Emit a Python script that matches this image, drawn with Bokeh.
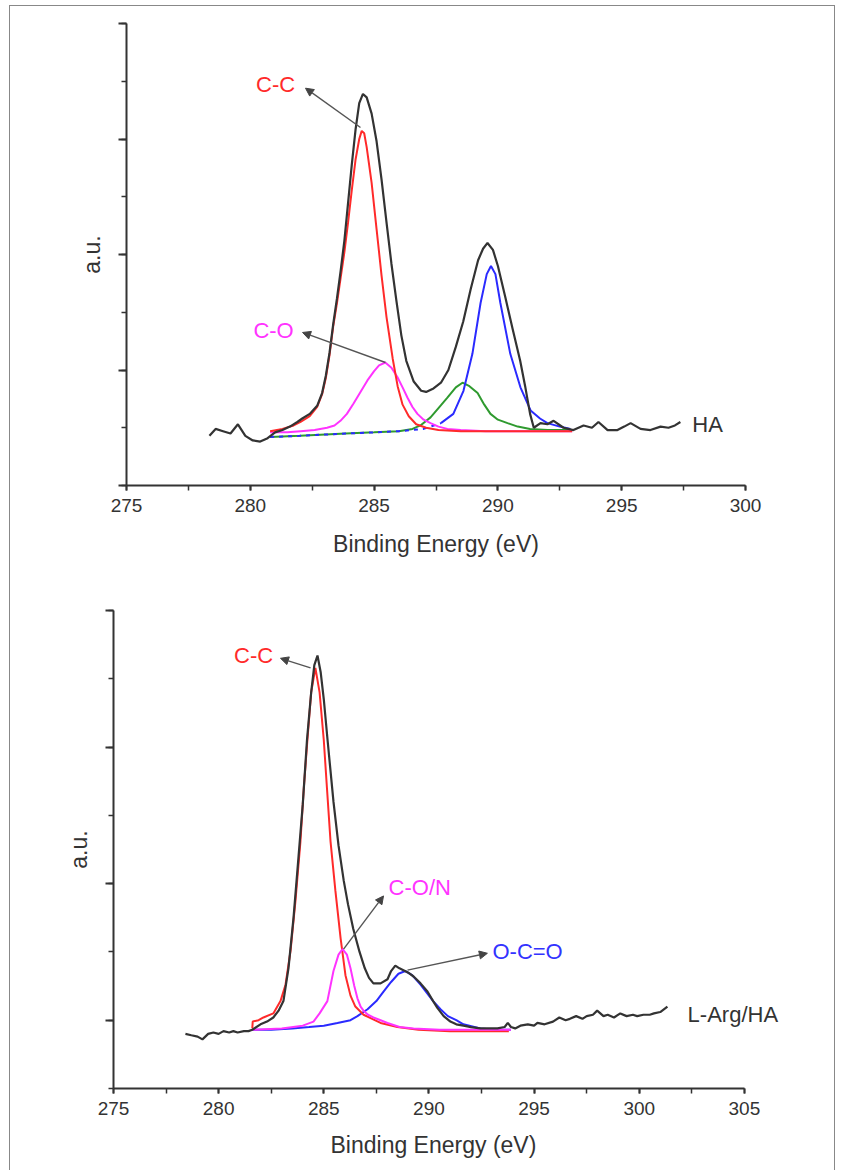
from bokeh.plotting import figure
from bokeh.models import (Range1d, SingleIntervalTicker, Arrow, NormalHead, ColumnDataSource,
                          LabelSet, CustomJSTickFormatter, Title)
from bokeh.layouts import column, row
from bokeh.core.properties import value
from bokeh.embed import file_html
from bokeh.resources import INLINE

FONT = "Liberation Sans"

# ---------------- Top panel: HA ----------------
ha_total_x = [278.35, 278.6, 278.9, 279.2, 279.5, 279.8, 280.1, 280.4, 280.7, 281.0, 281.3, 281.6,
              281.9, 282.1, 282.4, 282.7, 282.9, 283.05, 283.2, 283.35, 283.5, 283.65, 283.8, 283.95,
              284.1, 284.25, 284.4, 284.55, 284.7, 284.9, 285.1, 285.3, 285.5, 285.7, 285.9, 286.1,
              286.3, 286.6, 286.9, 287.1, 287.4, 287.7, 288.0, 288.3, 288.6, 288.9, 289.2, 289.4,
              289.58, 289.8, 290.0, 290.3, 290.6, 290.9, 291.1, 291.3, 291.45, 291.72, 292.0, 292.25,
              292.65, 293.05, 293.46, 293.8, 294.06, 294.43, 294.83, 295.1, 295.36, 295.76, 296.16,
              296.57, 296.89, 297.15, 297.37]
ha_total_y = [0.43, 0.49, 0.47, 0.45, 0.53, 0.43, 0.39, 0.38, 0.41, 0.46, 0.48, 0.51,
              0.55, 0.58, 0.62, 0.69, 0.80, 0.95, 1.15, 1.40, 1.62, 1.86, 2.12, 2.45,
              2.78, 3.08, 3.31, 3.39, 3.36, 3.22, 2.98, 2.65, 2.28, 1.92, 1.60, 1.30,
              1.08, 0.90, 0.82, 0.81, 0.84, 0.89, 1.00, 1.20, 1.42, 1.70, 1.95, 2.05,
              2.10, 2.04, 1.90, 1.63, 1.35, 1.08, 0.86, 0.62, 0.50, 0.54, 0.53, 0.56,
              0.50, 0.48, 0.52, 0.50, 0.55, 0.48, 0.48, 0.51, 0.54, 0.49, 0.48,
              0.51, 0.50, 0.52, 0.55]

ha_cc_x = [280.8, 281.3, 281.75, 282.03, 282.4, 282.7, 282.9, 283.05, 283.2, 283.35, 283.5, 283.65,
           283.8, 283.95, 284.1, 284.25, 284.4, 284.5, 284.6, 284.7, 284.9, 285.1, 285.3, 285.5,
           285.75, 285.95, 286.15, 286.4, 286.7, 287.1, 287.6, 288.5, 290.0, 291.5, 293.0]
ha_cc_y = [0.47, 0.49, 0.52, 0.55, 0.60, 0.68, 0.79, 0.93, 1.13, 1.38, 1.58, 1.80,
           2.02, 2.28, 2.56, 2.82, 3.00, 3.07, 3.05, 2.93, 2.62, 2.22, 1.82, 1.46,
           1.10, 0.86, 0.70, 0.60, 0.53, 0.50, 0.48, 0.47, 0.47, 0.47, 0.47]

ha_co_x = [280.8, 281.5, 282.03, 282.6, 283.1, 283.4, 283.64, 283.9, 284.17, 284.45, 284.73, 285.0,
           285.2, 285.45, 285.7, 285.94, 286.15, 286.35, 286.55, 286.75, 287.0, 287.28, 287.6, 287.96,
           288.5, 289.5, 291.0, 293.0]
ha_co_y = [0.46, 0.46, 0.47, 0.48, 0.50, 0.52, 0.56, 0.62, 0.71, 0.81, 0.91, 0.99,
           1.04, 1.065, 1.02, 0.94, 0.85, 0.76, 0.68, 0.62, 0.57, 0.54, 0.51, 0.49,
           0.48, 0.47, 0.47, 0.47]

ha_g_x = [280.8, 282.0, 283.85, 285.0, 286.0, 286.55, 286.87, 287.28, 287.6, 287.96, 288.3, 288.57,
          288.85, 289.18, 289.45, 289.7, 290.0, 290.39, 290.8, 291.3, 292.0, 292.9]
ha_g_y = [0.42, 0.43, 0.45, 0.46, 0.47, 0.49, 0.52, 0.59, 0.67, 0.76, 0.85, 0.89,
          0.86, 0.80, 0.70, 0.62, 0.57, 0.54, 0.51, 0.49, 0.48, 0.48]

ha_b_x = [280.8, 282.0, 283.85, 285.0, 286.0, 287.0, 287.7, 288.2, 288.61, 288.97, 289.3, 289.55,
          289.72, 289.9, 290.1, 290.5, 290.91, 291.32, 291.7, 292.0, 292.5, 292.93]
ha_b_y = [0.42, 0.43, 0.45, 0.46, 0.47, 0.49, 0.54, 0.62, 0.82, 1.14, 1.58, 1.83,
          1.90, 1.83, 1.58, 1.14, 0.85, 0.65, 0.58, 0.54, 0.51, 0.49]

# ---------------- Bottom panel: L-Arg/HA ----------------
la_total_x = [278.42, 278.7, 279.0, 279.23, 279.5, 279.75, 280.0, 280.23, 280.5, 280.7, 280.9, 281.2,
              281.42, 281.6, 281.99, 282.3, 282.6, 282.85, 283.08, 283.32, 283.56, 283.8, 284.0, 284.2,
              284.4, 284.55, 284.7, 284.85, 285.0, 285.18, 285.46, 285.7, 285.95, 286.15, 286.4, 286.7,
              286.95, 287.15, 287.36, 287.7, 288.03, 288.2, 288.4, 288.6, 288.74, 289.0, 289.27, 289.6,
              289.93, 290.2, 290.4, 290.7, 291.02, 291.3, 291.64, 292.0, 292.45, 292.9, 293.26, 293.6,
              293.75, 293.9, 294.1, 294.35, 294.7, 295.0, 295.16, 295.5, 295.9, 296.2, 296.5, 296.7,
              297.0, 297.3, 297.5, 297.8, 298.0, 298.3, 298.5, 298.8, 299.1, 299.4, 299.7, 299.9,
              300.2, 300.5, 300.7, 301.0, 301.34]
la_total_y = [-0.10, -0.11, -0.12, -0.14, -0.10, -0.09, -0.10, -0.08, -0.09, -0.08, -0.09, -0.08,
              -0.08, -0.07, -0.03, -0.01, 0.02, 0.07, 0.14, 0.38, 0.75, 1.20, 1.58, 2.05,
              2.40, 2.60, 2.67, 2.55, 2.35, 2.05, 1.60, 1.28, 1.02, 0.85, 0.67, 0.50,
              0.38, 0.31, 0.27, 0.27, 0.30, 0.36, 0.40, 0.38, 0.37, 0.35, 0.32, 0.27,
              0.21, 0.14, 0.09, 0.03, -0.01, -0.03, -0.04, -0.05, -0.06, -0.06, -0.06, -0.05,
              -0.02, -0.05, -0.06, -0.04, -0.03, -0.04, -0.02, -0.03, -0.01, 0.02, 0.00, 0.01,
              0.03, 0.01, 0.03, 0.04, 0.07, 0.03, 0.04, 0.02, 0.05, 0.03, 0.04, 0.03,
              0.04, 0.04, 0.05, 0.06, 0.10]

la_cc_x = [281.6, 281.62, 281.9, 282.13, 282.6, 282.94, 283.18, 283.42, 283.65, 283.89, 284.05, 284.22,
           284.4, 284.6, 284.8, 285.0, 285.15, 285.32, 285.55, 285.8, 286.03, 286.27, 286.5, 286.89,
           287.3, 287.7, 288.5, 289.5, 291.0, 293.8]
la_cc_y = [-0.06, -0.01, 0.00, 0.02, 0.05, 0.14, 0.26, 0.51, 0.87, 1.31, 1.70, 2.05,
           2.40, 2.58, 2.40, 2.05, 1.70, 1.31, 0.95, 0.60, 0.33, 0.18, 0.10, 0.04,
           0.01, -0.02, -0.05, -0.07, -0.08, -0.08]

la_con_x = [281.6, 283.0, 284.0, 284.51, 284.8, 285.17, 285.46, 285.7, 285.89, 286.1, 286.27, 286.45,
            286.6, 286.75, 286.89, 287.1, 287.36, 287.7, 288.03, 288.6, 289.27, 290.5, 293.9]
la_con_y = [-0.07, -0.06, -0.04, -0.01, 0.05, 0.14, 0.36, 0.48, 0.52, 0.48, 0.38, 0.25,
            0.16, 0.10, 0.07, 0.04, 0.02, 0.00, -0.02, -0.05, -0.06, -0.07, -0.07]

la_occ_x = [281.6, 282.5, 283.5, 284.3, 285.0, 285.65, 286.27, 286.6, 287.08, 287.5, 287.84, 288.2,
            288.55, 288.88, 289.2, 289.6, 289.9, 290.2, 290.55, 290.9, 291.3, 291.64, 292.45, 293.2,
            293.9]
la_occ_y = [-0.07, -0.07, -0.06, -0.05, -0.04, -0.02, 0.00, 0.03, 0.08, 0.14, 0.21, 0.28,
            0.34, 0.36, 0.33, 0.26, 0.20, 0.14, 0.08, 0.03, 0.00, -0.03, -0.06, -0.07,
            -0.07]

# ---------------- Labels & arrows ----------------
top_labels = ["C-C", "C-O", "HA"]
top_label_x = [281.02, 280.94, 297.85]
top_label_y = [3.47, 1.34, 0.53]
top_label_align = ["center", "center", "left"]
top_label_color = ["#ff2a2a", "#ff33ff", "#333333"]
top_arrow_start = [(284.45, 3.10), (285.46, 1.065)]
top_arrow_end = [(282.23, 3.44), (282.11, 1.325)]

bot_labels = ["C-C", "C-O/N", "O-C=O", "L-Arg/HA"]
bot_label_x = [281.66, 288.08, 293.02, 302.3]
bot_label_y = [2.67, 0.97, 0.506, 0.044]
bot_label_align = ["center", "left", "left", "left"]
bot_label_color = ["#ff2a2a", "#ff33ff", "#3333ff", "#333333"]
bot_arrow_start = [(284.37, 2.58), (285.94, 0.52), (288.98, 0.367)]
bot_arrow_end = [(282.94, 2.65), (287.84, 0.91), (292.78, 0.49)]

XLABEL = "Binding Energy (eV)"
YLABEL = "a.u."

BLACK = "#333333"
RED = "#ff2a2a"
MAGENTA = "#ff33ff"
GREEN = "#2f9a2f"
BLUE = "#2a2aff"


def style(p, xlabel, ylabel, xbounds):
    p.grid.visible = False
    p.outline_line_color = None
    p.background_fill_color = "white"
    p.border_fill_color = "white"
    p.xaxis.ticker = SingleIntervalTicker(interval=5, num_minor_ticks=2)
    p.yaxis.ticker = SingleIntervalTicker(interval=1, num_minor_ticks=2)
    p.xaxis.bounds = xbounds
    for ax in (p.xaxis[0], p.yaxis[0]):
        ax.axis_line_color = BLACK
        ax.axis_line_width = 2
        ax.major_tick_line_color = BLACK
        ax.minor_tick_line_color = BLACK
        ax.major_tick_line_width = 2
        ax.minor_tick_line_width = 1.5
        ax.major_tick_in = 0
        ax.minor_tick_in = 0
        ax.axis_label_text_font = FONT
        ax.axis_label_text_font_style = "normal"
        ax.axis_label_text_font_size = "23px"
        ax.axis_label_text_color = BLACK
        ax.major_label_text_font = FONT
        ax.major_label_text_font_size = "19px"
        ax.major_label_text_color = BLACK
    p.xaxis.major_tick_out = 5
    p.xaxis.minor_tick_out = 5
    p.xaxis.major_label_standoff = 8
    if xlabel:
        p.xaxis.axis_label = xlabel
        p.xaxis.axis_label_standoff = 16
    p.yaxis.major_tick_out = 8
    p.yaxis.minor_tick_out = 5
    p.yaxis.formatter = CustomJSTickFormatter(code="return ''")
    p.yaxis.major_label_standoff = 0
    p.yaxis.axis_label = ylabel
    p.yaxis.axis_label_standoff = 14


def add_labels(p, xs, ys, texts, aligns, colors, starts, ends):
    src = ColumnDataSource(dict(x=xs, y=ys, t=texts, a=aligns, c=colors))
    p.add_layout(LabelSet(x="x", y="y", text="t", text_align="a", text_color="c", source=src,
                          text_baseline="middle", text_font=value(FONT),
                          text_font_size=value("22px")))
    for (xs0, ys0), (xe, ye) in zip(starts, ends):
        p.add_layout(Arrow(end=NormalHead(size=8, line_color="#444444", fill_color="#444444"),
                           x_start=xs0, y_start=ys0, x_end=xe, y_end=ye,
                           line_color="#555555", line_width=1.4))


# Top figure
p1 = figure(width=824, height=574, x_range=Range1d(275, 300), y_range=Range1d(0, 4),
            output_backend="svg", toolbar_location=None,
            min_border_left=116, min_border_right=89, min_border_top=17, min_border_bottom=95)
style(p1, XLABEL, YLABEL, (275, 300))
p1.line(ha_g_x, ha_g_y, line_color=GREEN, line_width=2)
p1.line(ha_b_x[:7], ha_b_y[:7], line_color=BLUE, line_width=2, line_dash="4 5")
p1.line(ha_co_x, ha_co_y, line_color=MAGENTA, line_width=2)
p1.line(ha_cc_x, ha_cc_y, line_color=RED, line_width=2)
p1.line(ha_b_x[6:], ha_b_y[6:], line_color=BLUE, line_width=2)
p1.line(ha_total_x, ha_total_y, line_color=BLACK, line_width=2.2)
add_labels(p1, top_label_x, top_label_y, top_labels, top_label_align, top_label_color,
           top_arrow_start, top_arrow_end)

# Bottom figure: the x range runs past 305 so the "L-Arg/HA" label is not clipped;
# the axis itself is bounded to 275-305, and its title is placed as a left-offset Title.
p2 = figure(width=824, height=590, x_range=Range1d(275, 309), y_range=Range1d(-0.5, 3),
            output_backend="svg", toolbar_location=None,
            min_border_left=103, min_border_right=6, min_border_top=30, min_border_bottom=82)
style(p2, None, YLABEL, (275, 305))
p2.add_layout(Title(text=XLABEL, align="left", offset=217, text_font=FONT,
                    text_font_size="23px", text_font_style="normal", text_color=BLACK,
                    standoff=24), "below")
p2.line(la_occ_x, la_occ_y, line_color=BLUE, line_width=2)
p2.line(la_cc_x, la_cc_y, line_color=RED, line_width=2)
p2.line(la_con_x, la_con_y, line_color=MAGENTA, line_width=2)
p2.line(la_total_x, la_total_y, line_color=BLACK, line_width=2.2)
add_labels(p2, bot_label_x, bot_label_y, bot_labels, bot_label_align, bot_label_color,
           bot_arrow_start, bot_arrow_end)

layout = column(row(p1), row(p2), spacing=0,
                styles={"border-left": "1px solid #888888", "border-right": "1px solid #888888",
                        "border-top": "1px solid #888888",
                        "margin-left": "9px", "margin-top": "5px"})

open("out.html", "w").write(file_html(layout, INLINE))
